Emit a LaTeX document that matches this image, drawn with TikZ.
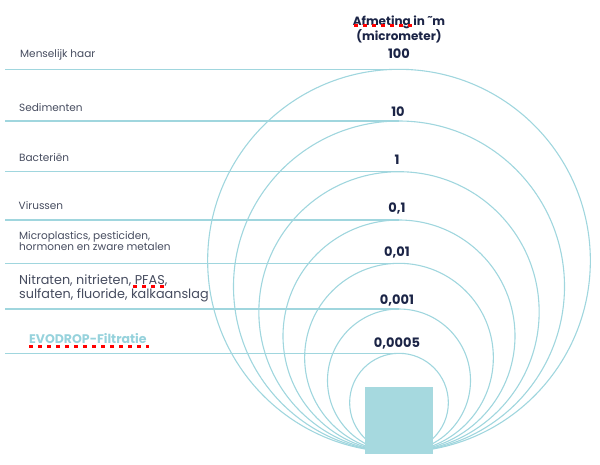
\documentclass[tikz,border=0pt]{standalone}
\usepackage{fontspec}
\setmainfont{Poppins}
\definecolor{ringc}{RGB}{160,214,222}
\definecolor{sqc}{RGB}{166,217,223}
\definecolor{navy}{RGB}{27,36,70}
\definecolor{labc}{RGB}{70,76,95}
\definecolor{evoc}{RGB}{150,210,220}
\tikzset{
  ring/.style={draw=ringc, line width=1.1pt},
  hline/.style={draw=ringc, line width=1.5pt},
  numlab/.style={font=\fontsize{13}{13}\selectfont\bfseries, text=navy, anchor=base, inner sep=0pt},
  titlab/.style={font=\fontsize{12}{12}\selectfont\bfseries, text=navy, anchor=base, inner sep=0pt},
  leftlab/.style={font=\fontsize{10.5}{10.5}\selectfont, text=labc, anchor=base west, inner sep=0pt},
  biglab/.style={font=\fontsize{12.8}{12.8}\selectfont, text=labc, anchor=base west, inner sep=0pt},
  spell/.style={draw=red, line width=3pt, dash pattern=on 4pt off 5pt}
}
\begin{document}
\begin{tikzpicture}[x=1pt,y=-1pt]
\useasboundingbox (0,0) rectangle (600,464);
% rings tangent at the bottom point
\foreach \r in {191.35,165.5,140.15,116,94.35,71.5,49.35}{
  \draw[ring] (399,452-\r) circle[radius=\r pt];
}
% horizontal lines
\foreach \i/\y in {1/69.3,2/121,3/171.7,4/220,5/263.3,6/309,7/353.3}{
  \coordinate (l\i) at (5,\y);
  \coordinate (t\i) at (399,\y);
  \draw[hline] (l\i) -- (t\i);
}
% filter square
\node[fill=sqc, minimum width=68pt, minimum height=67pt, inner sep=0pt, anchor=south] (filter) at (399,454) {};
% title
\node[titlab] (tit1) at (399,25) {Afmeting in ˜m};
\node[titlab] (tit2) at (399,40) {(micrometer)};
% numbers
\node[numlab] (n1) at (399,58.3) {100};
\node[numlab] (n2) at (398,116) {10};
\node[numlab] (n3) at (397,164.3) {1};
\node[numlab] (n4) at (397,212.7) {0,1};
\node[numlab] (n5) at (397,256.7) {0,01};
\node[numlab] (n6) at (397,304) {0,001};
\node[numlab] (n7) at (397,347.7) {0,0005};
% left labels
\node[leftlab] (a1) at (20,57.7) {Menselijk haar};
\node[leftlab] (a2) at (19,111.5) {Sedimenten};
\node[leftlab] (a3) at (19,161.5) {Bacteriën};
\node[leftlab] (a4) at (18.5,209.3) {Virussen};
\node[leftlab] (a5a) at (19,239) {Microplastics, pesticiden,};
\node[leftlab] (a5b) at (19,250.7) {hormonen en zware metalen};
\node[biglab] (a6a) at (19,284.3) {Nitraten, nitrieten, PFAS,};
\node[biglab] (a6b) at (19,298.3) {sulfaten, fluoride, kalkaanslag};
\node[font=\fontsize{12.5}{12.5}\selectfont\bfseries, text=evoc, anchor=base west, inner sep=0pt] (evo) at (29,343.3) {EVODROP-Filtratie};
% spell-check marks
\coordinate (s1a) at (354,25.5); \coordinate (s1b) at (412,25.5);
\coordinate (s2a) at (133,286); \coordinate (s2b) at (166,286);
\coordinate (s3a) at (29,346); \coordinate (s3b) at (149,346);
\draw[spell] (s1a) -- (s1b);
\draw[spell] (s2a) -- (s2b);
\draw[spell] (s3a) -- (s3b);
\end{tikzpicture}
\end{document}
